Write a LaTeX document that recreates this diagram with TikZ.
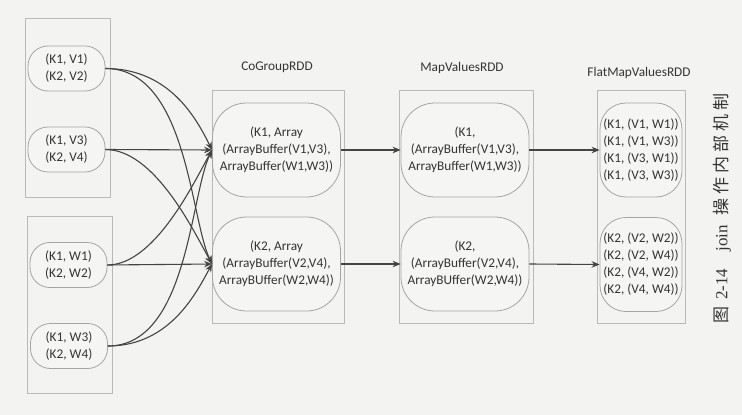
\documentclass[tikz,border=0pt]{standalone}
\usepackage{fontspec}
\setmainfont{Carlito}
\newfontfamily\cjkfont{Noto Sans CJK SC}
\newfontfamily\capserif{Liberation Serif}
\usetikzlibrary{arrows.meta}
\definecolor{bgc}{RGB}{243,243,241}
\definecolor{txt}{RGB}{52,52,52}
\definecolor{linec}{RGB}{68,68,68}
\definecolor{boxline}{RGB}{185,185,185}
\definecolor{pillline}{RGB}{165,165,165}
\definecolor{pillfill}{RGB}{245,245,244}
\tikzset{
  grp/.style={draw=boxline, line width=0.8pt},
  pill/.style={draw=pillline, fill=pillfill, line width=0.8pt, align=center, inner sep=1pt,
    text=txt, font=\fontsize{13.3pt}{17pt}\selectfont},
  smallpill/.style={pill, minimum width=77pt, minimum height=45pt, rounded corners=20pt},
  bigpill/.style={pill, minimum width=128pt, minimum height=94pt, rounded corners=34pt},
  flatpill/.style={pill, minimum width=82pt, minimum height=94pt, rounded corners=26pt},
  ttl/.style={text=txt, font=\fontsize{13.3pt}{16pt}\selectfont},
  arr/.style={draw=linec, line width=1.1pt, -{Stealth[length=8pt,width=6.5pt]}},
}
\begin{document}
\begin{tikzpicture}[x=1pt,y=-1pt]
\fill[bgc] (0,0) rectangle (742,415);
\useasboundingbox (0,0) rectangle (742,415);

% group boxes
\draw[grp] (25,18) rectangle (110,197);
\draw[grp] (27,216) rectangle (112,393);
\draw[grp] (212,90) rectangle (344,323);
\draw[grp] (399,90) rectangle (533,323);
\draw[grp] (597,90) rectangle (685,323);

% titles
\node[ttl] (t1) at (277,67) {CoGroupRDD};
\node[ttl] (t2) at (462,68) {MapValuesRDD};
\node[ttl] (t3) at (639,73) {FlatMapValuesRDD};

% source pills
\node[smallpill] (v1) at (66.5,68.5) {(K1, V1)\\(K2, V2)};
\node[smallpill] (v3) at (66.5,149.5) {(K1, V3)\\(K2, V4)};
\node[smallpill] (w1) at (68.5,265) {(K1, W1)\\(K2, W2)};
\node[smallpill] (w3) at (69,346) {(K1, W3)\\(K2, W4)};

% cogroup pills
\node[bigpill] (c1) at (276.5,150) {(K1, Array\\(ArrayBuffer(V1,V3),\\ArrayBuffer(W1,W3))};
\node[bigpill] (c2) at (276.5,264) {(K2, Array\\(ArrayBuffer(V2,V4),\\ArrayBUffer(W2,W4))};

% mapvalues pills
\node[bigpill] (m1) at (465,150) {(K1,\\(ArrayBuffer(V1,V3),\\ArrayBuffer(W1,W3))};
\node[bigpill] (m2) at (465,264) {(K2,\\(ArrayBuffer(V2,V4),\\ArrayBUffer(W2,W4))};

% flatmap pills
\node[flatpill] (f1) at (641,150) {(K1, (V1, W1))\\(K1, (V1, W3))\\(K1, (V3, W1))\\(K1, (V3, W3))};
\node[flatpill] (f2) at (641,264.5) {(K2, (V2, W2))\\(K2, (V2, W4))\\(K2, (V4, W2))\\(K2, (V4, W4))};

% connectors into CoGroupRDD
\draw[arr] (v1.east) .. controls +(65,0) and +(-15,-30) .. (c1.west);
\draw[arr] (v1.east) .. controls +(82,0) and +(-22,-45) .. (c2.west);
\draw[arr] (v3.east) -- (c1.west);
\draw[arr] (v3.east) .. controls +(50,0) and +(-17,-30) .. (c2.west);
\draw[arr] (w1.east) .. controls +(48,0) and +(-17,30) .. (c1.west);
\draw[arr] (w1.east) -- (c2.west);
\draw[arr] (w3.east) .. controls +(80,0) and +(-22,45) .. (c1.west);
\draw[arr] (w3.east) .. controls +(63,0) and +(-15,27) .. (c2.west);

% straight connectors
\draw[arr] (c1.east) -- (m1.west);
\draw[arr] (c2.east) -- (m2.west);
\draw[arr] (m1.east) -- (f1.west);
\draw[arr] (m2.east) -- (f2.west);

% caption
\node[rotate=90, text=txt, font=\fontsize{17pt}{20pt}\selectfont, inner sep=0pt] (cap) at (722,208.5)
  {\cjkfont 图\hspace{7pt}{\capserif 2-14}\hspace{17pt}{\capserif join}\hspace{10pt}操\hspace{4pt}作\hspace{4pt}内\hspace{4pt}部\hspace{4pt}机\hspace{4pt}制};
\end{tikzpicture}
\end{document}
